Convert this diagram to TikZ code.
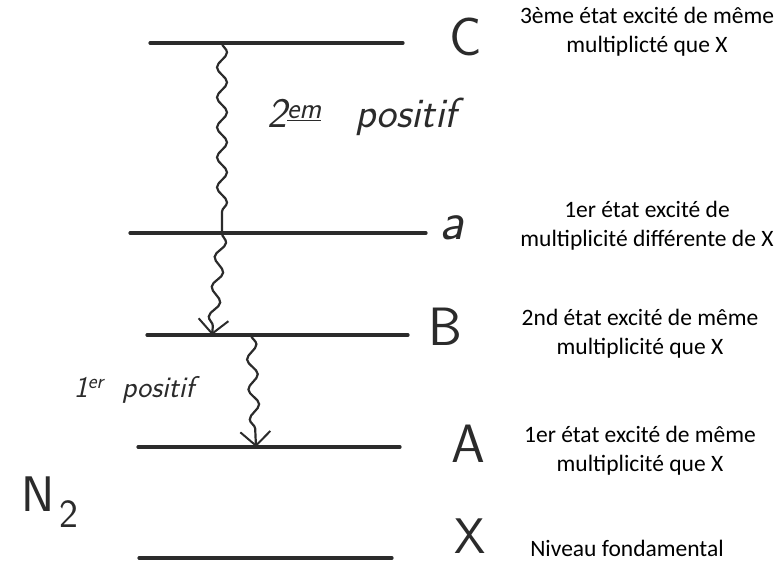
\documentclass[tikz,border=0pt]{standalone}
\usepackage{fontspec}
\newfontfamily\descfont{Carlito}
\usetikzlibrary{arrows.meta,decorations.pathmorphing}
\definecolor{ink}{HTML}{2B2B2B}

\begin{document}
\begin{tikzpicture}
  [x=1pt, y=-1pt,
   level/.style={line width=3.2pt, draw=ink, line cap=round},
   wave/.style={line width=2.2pt, draw=ink, decorate,
     decoration={snake, amplitude=5pt, segment length=30pt, post length=8pt}},
   barb/.style={-{Straight Barb[length=14pt, width=30pt, line width=2pt]}},
   lettre/.style={text=ink, inner sep=0pt, font=\fontsize{54}{54}\sffamily},
   desc/.style={align=center, inner sep=0pt, font=\descfont\fontsize{23.5}{29}\selectfont},
   hand/.style={text=ink, inner sep=0pt, font=\fontsize{42}{42}\sffamily\itshape}]

  \useasboundingbox (0,0) rectangle (782,566);

  % Niveaux
  \foreach \lvl/\xa/\xb/\y in {C/150/403/43, a/130/426/233, B/147/408/335, A/138/400/447, X/139/392/558} {
    \coordinate (\lvl-l) at (\xa,\y);
    \coordinate (\lvl-r) at (\xb,\y);
    \draw[level] (\lvl-l) -- (\lvl-r);
  }

  % Lettres des niveaux
  \node[lettre] (lC) at (466,37) {C};
  \node[lettre] (la) at (452,228) {\itshape a};
  \node[lettre] (lB) at (445,327) {B};
  \node[lettre] (lA) at (468,444) {A};
  \node[lettre, font=\fontsize{50}{50}\sffamily] (lX) at (470,536) {X};
  \node[lettre, font=\fontsize{50}{50}\sffamily] (n2) at (50,502)
    {N\hspace{5pt}\raisebox{-16pt}{\fontsize{40}{40}\selectfont 2}};

  % Points de depart et d'arrivee des transitions
  \coordinate (C-w) at (222,43);
  \coordinate (a-w) at (222,233);
  \coordinate (B-w) at (212,335);
  \coordinate (B-v) at (251,335);
  \coordinate (A-w) at (256,447);

  % Transitions
  \draw[wave] (C-w) -- (a-w);
  \draw[wave, barb] (a-w) -- (B-w);
  \draw[wave, barb] (B-v) -- (A-w);

  % Systemes
  \node[hand] (p2) at (362,117) {2\textsuperscript{\underline{em}}\hspace{0.8em}positif};
  \node[hand, font=\fontsize{30}{30}\sffamily\itshape] (p1) at (134,390)
    {1\textsuperscript{er}\hspace{0.6em}positif};

  % Descriptions
  \node[desc] (dC) at (647,32) {3ème état excité de même\\multiplicté que X};
  \node[desc] (da) at (647,226) {1er état excité de\\multiplicité différente de X};
  \node[desc] (dB) at (640,334) {2nd état excité de même\\multiplicité que X};
  \node[desc] (dA) at (640,451) {1er état excité de même\\multiplicité que X};
  \node[desc] (dX) at (627,548) {Niveau fondamental};
\end{tikzpicture}
\end{document}
